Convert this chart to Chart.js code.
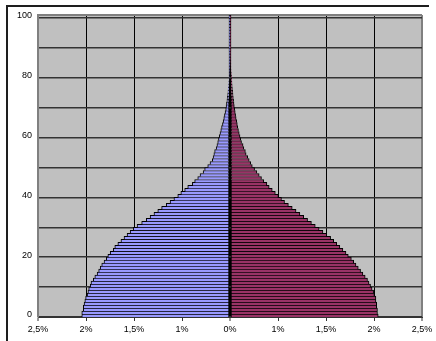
<!DOCTYPE html>
<html>
<head>
<meta charset="utf-8">
<script src="https://cdn.jsdelivr.net/npm/chart.js@4.4.1/dist/chart.umd.min.js"></script>
<style>
  html, body { margin: 0; padding: 0; background: #fff; }
  #wrap { position: relative; width: 436px; height: 341px; overflow: hidden; }
  #frame { position: absolute; left: 6px; top: 5px; width: 421px; height: 345px;
           border-top: 2px solid #1e1e1e; border-left: 2px solid #1e1e1e; pointer-events: none; }
  canvas { position: absolute; left: 0; top: 0; }
</style>
</head>
<body>
<div id="wrap">
  <canvas id="pyramid" width="436" height="341"></canvas>
  <div id="frame"></div>
</div>
<script>
// Age classes, one bar per year of age
const ages = [
  0, 1, 2, 3, 4, 5, 6, 7, 8, 9,
  10, 11, 12, 13, 14, 15, 16, 17, 18, 19,
  20, 21, 22, 23, 24, 25, 26, 27, 28, 29,
  30, 31, 32, 33, 34, 35, 36, 37, 38, 39,
  40, 41, 42, 43, 44, 45, 46, 47, 48, 49,
  50, 51, 52, 53, 54, 55, 56, 57, 58, 59,
  60, 61, 62, 63, 64, 65, 66, 67, 68, 69,
  70, 71, 72, 73, 74, 75, 76, 77, 78, 79,
  80, 81, 82, 83, 84, 85, 86, 87, 88, 89,
  90, 91, 92, 93, 94, 95, 96, 97, 98, 99,
  100
];

// Share of the population in each age class (left side, blue)
const males = [
  1.93, 1.93, 1.91, 1.91, 1.90, 1.89, 1.88, 1.86, 1.85, 1.84,
  1.82, 1.81, 1.78, 1.76, 1.73, 1.71, 1.69, 1.67, 1.64, 1.61,
  1.59, 1.56, 1.52, 1.50, 1.46, 1.42, 1.38, 1.34, 1.30, 1.26,
  1.21, 1.15, 1.09, 1.04, 0.99, 0.94, 0.89, 0.83, 0.78, 0.73,
  0.68, 0.64, 0.59, 0.55, 0.49, 0.46, 0.42, 0.39, 0.35, 0.33,
  0.29, 0.26, 0.23, 0.22, 0.21, 0.20, 0.18, 0.17, 0.16, 0.15,
  0.14, 0.13, 0.12, 0.11, 0.098, 0.089, 0.081, 0.072, 0.064, 0.056,
  0.051, 0.046, 0.040, 0.035, 0.030, 0.026, 0.022, 0.018, 0.016, 0.013,
  0.010, 0.008, 0.007, 0.005, 0.004, 0.003, 0.003, 0.002, 0.002, 0.001,
  0.001, 0.001, 0.001, 0.001, 0.001, 0.001, 0.001, 0.001, 0.001, 0.001,
  0.001
];

// Share of the population in each age class (right side, maroon)
const females = [
  1.93, 1.92, 1.92, 1.91, 1.91, 1.90, 1.90, 1.88, 1.87, 1.85,
  1.83, 1.81, 1.79, 1.76, 1.73, 1.70, 1.67, 1.64, 1.61, 1.58,
  1.54, 1.51, 1.47, 1.43, 1.39, 1.35, 1.31, 1.26, 1.21, 1.16,
  1.11, 1.06, 1.01, 0.96, 0.91, 0.86, 0.81, 0.76, 0.71, 0.67,
  0.63, 0.59, 0.55, 0.51, 0.48, 0.44, 0.41, 0.38, 0.35, 0.32,
  0.29, 0.27, 0.25, 0.23, 0.21, 0.20, 0.18, 0.17, 0.15, 0.14,
  0.13, 0.12, 0.11, 0.10, 0.095, 0.088, 0.080, 0.073, 0.068, 0.062,
  0.056, 0.052, 0.047, 0.043, 0.039, 0.035, 0.031, 0.028, 0.025, 0.022,
  0.020, 0.017, 0.014, 0.012, 0.010, 0.008, 0.006, 0.005, 0.004, 0.003,
  0.002, 0.002, 0.001, 0.001, 0.001, 0.001, 0.001, 0.001, 0.001, 0.001,
  0.001
];

// Horizontal axis: tick positions and the labels printed under them
const xTickValues = [-2.5, -1.875, -1.25, -0.625, 0, 0.625, 1.25, 1.875, 2.5];
const xTickLabels = ['2,5%', '2%', '1,5%', '1%', '0%', '1%', '1,5%', '2%', '2,5%'];

// Vertical axis: grid every 10 years, label every 20 years
const yGridAges = [0, 10, 20, 30, 40, 50, 60, 70, 80, 90, 100, 101];
const yLabelAges = [0, 20, 40, 60, 80, 100];

const plotBackground = {
  id: 'plotBackground',
  beforeDraw(chart) {
    const { ctx, chartArea: a } = chart;
    ctx.save();
    ctx.fillStyle = '#C0C0C0';
    ctx.fillRect(a.left, a.top, a.right - a.left, a.bottom - a.top);
    ctx.restore();
  }
};

const FONT = { family: "'Liberation Sans', Arial, sans-serif", size: 9 };
const tickVal = c => (c && c.tick ? c.tick.value : NaN);

new Chart(document.getElementById('pyramid'), {
  type: 'bar',
  data: {
    datasets: [
      {
        label: 'males',
        data: ages.map((a, i) => ({ x: -males[i], y: a })),
        backgroundColor: '#9999FF',
        borderColor: '#000000',
        borderWidth: { top: 1, right: 1, bottom: 0, left: 1 },
        borderSkipped: false,
        grouped: false,
        categoryPercentage: 1,
        barPercentage: 1
      },
      {
        label: 'females',
        data: ages.map((a, i) => ({ x: females[i], y: a })),
        backgroundColor: '#993366',
        borderColor: '#000000',
        borderWidth: { top: 1, right: 1, bottom: 0, left: 1 },
        borderSkipped: false,
        grouped: false,
        categoryPercentage: 1,
        barPercentage: 1
      }
    ]
  },
  options: {
    indexAxis: 'y',
    responsive: false,
    animation: false,
    devicePixelRatio: 1,
    layout: { padding: { left: 0, right: 14, top: 15, bottom: 0 } },
    plugins: { legend: { display: false }, tooltip: { enabled: false } },
    scales: {
      x: {
        type: 'linear',
        min: -2.5,
        max: 2.5,
        afterBuildTicks: s => { s.ticks = xTickValues.map(v => ({ value: v })); },
        afterFit: s => { s.height = 24; },
        ticks: {
          autoSkip: false,
          maxRotation: 0,
          padding: 3,
          color: '#000',
          font: FONT,
          callback: (v, i) => xTickLabels[i]
        },
        grid: {
          color: c => (Math.abs(tickVal(c)) === 2.5 ? '#808080' : '#000000'),
          lineWidth: c => {
            const v = tickVal(c);
            return Math.abs(v) === 2.5 || v === 0 ? 2 : 1;
          },
          tickLength: 4,
          tickColor: '#333333',
          tickWidth: 1
        },
        border: { display: true, color: '#333333', width: 1 }
      },
      y: {
        type: 'linear',
        offset: false,
        min: -0.5,
        max: 100.5,
        afterBuildTicks: s => { s.ticks = yGridAges.map(v => ({ value: v - 0.5 })); },
        afterFit: s => { s.width = 38; },
        ticks: {
          autoSkip: false,
          padding: 6,
          labelOffset: -2,
          color: '#000',
          font: FONT,
          callback: v => (yLabelAges.includes(v + 0.5) ? String(v + 0.5) : '')
        },
        grid: {
          offset: false,
          drawTicks: false,
          color: c => (tickVal(c) === 100.5 ? '#808080' : '#333333'),
          lineWidth: c => (tickVal(c) === 100.5 ? 2 : 1.5)
        },
        border: { display: true, color: '#808080', width: 2 }
      }
    }
  },
  plugins: [plotBackground]
});
</script>
</body>
</html>
